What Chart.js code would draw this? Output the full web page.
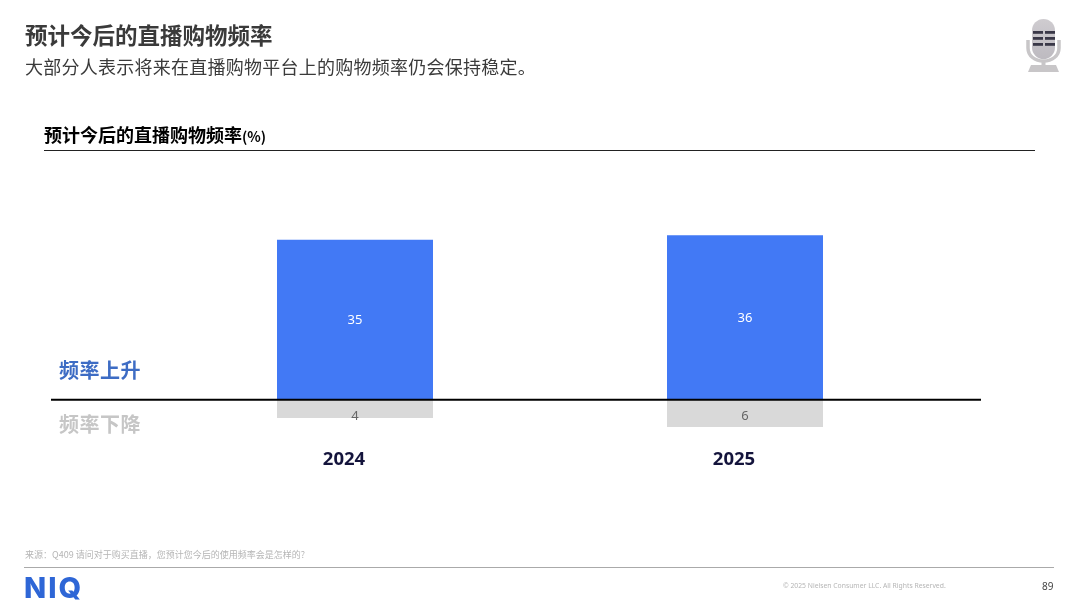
<!DOCTYPE html>
<html lang="zh-CN">
<head>
<meta charset="utf-8">
<script src="https://cdn.jsdelivr.net/npm/chart.js@4"></script>
<style>
  html, body { margin: 0; padding: 0; background: #fff; }
  body { width: 1080px; height: 608px; position: relative; overflow: hidden; font-family: "Noto Sans CJK SC", "Noto Sans", sans-serif; }
  canvas { position: absolute; left: 0; top: 0; }
  .txt { position: absolute; white-space: nowrap; line-height: 1; }
  .rule { position: absolute; }
</style>
</head>
<body>
<canvas id="freqChart" width="1080" height="608"></canvas>

<div class="txt" style="left:25px;top:23px;font-size:22.5px;font-weight:700;color:#3a3a3a">预计今后的直播购物频率</div>
<div class="txt" style="left:25px;top:57px;font-size:18px;letter-spacing:0.25px;color:#3a3a3a">大部分人表示将来在直播购物平台上的购物频率仍会保持稳定。</div>
<div class="txt" style="left:44px;top:125px;font-size:18px;font-weight:700;color:#000">预计今后的直播购物频率<span style="font-size:14px">(%)</span></div>
<div class="rule" style="left:44px;top:150px;width:991px;height:1px;background:#222"></div>

<div class="txt" style="left:59px;top:360px;font-size:20px;font-weight:700;letter-spacing:0.5px;color:#3d6cc4">频率上升</div>
<div class="txt" style="left:59px;top:414px;font-size:20px;font-weight:700;letter-spacing:0.5px;color:#c6c6c6">频率下降</div>

<div class="txt" style="left:25px;top:550px;font-size:9px;color:#b5b5b5">来源：Q409 请问对于购买直播，您预计您今后的使用频率会是怎样的?</div>
<div class="rule" style="left:24px;top:567px;width:1030px;height:1px;background:#aaa"></div>
<div class="txt" style="left:24px;top:573px;font-size:29px;font-weight:800;letter-spacing:2px;color:#2e66d6;font-family:Inter,'Noto Sans',sans-serif">NIQ</div>
<div class="txt" style="left:783px;top:583px;font-size:6.8px;color:#b5b5b5;font-family:'Noto Sans',sans-serif">© 2025 Nielsen Consumer LLC. All Rights Reserved.</div>
<div class="txt" style="left:1042px;top:581px;font-size:10px;color:#444;font-family:'Noto Sans',sans-serif">89</div>

<!-- microphone icon -->
<svg style="position:absolute;left:1020px;top:14px" width="48" height="62" viewBox="0 0 48 62">
  <defs><linearGradient id="micBody" x1="0" x2="0" y1="0" y2="1"><stop offset="0" stop-color="#cfccd0"/><stop offset="1" stop-color="#bdbac0"/></linearGradient></defs>
  <path d="M8 26v8c0 8 7 13 15.500 13s15.500-5 15.500-13v-8" fill="none" stroke="#c8c6c8" stroke-width="3.500"/>
  <rect x="12" y="5" width="23" height="40" rx="11.500" fill="url(#micBody)"/>
  <rect x="13" y="17" width="10" height="2.800" fill="#3a3848"/><rect x="25" y="17" width="10" height="2.800" fill="#3a3848"/>
  <rect x="13" y="23" width="10" height="2.800" fill="#3a3848"/><rect x="25" y="23" width="10" height="2.800" fill="#3a3848"/>
  <rect x="13" y="29" width="10" height="2.800" fill="#3a3848"/><rect x="25" y="29" width="10" height="2.800" fill="#3a3848"/>
  <rect x="21.500" y="47" width="4" height="5" fill="#c8c6c8"/>
  <path d="M8 58l3-7h25l3 7z" fill="#c8c6c8"/>
</svg>

<script>
const years = ['2024', '2025'];
const freqUp = [35, 36];
const freqDown = [-4, -6];

// zero line runs past the plot on both sides, labels sit inside the bars
const barExtras = {
    id: 'barExtras',
    afterDatasetsDraw(chart) {
        const ctx = chart.ctx;
        const zeroY = chart.scales.y.getPixelForValue(0);
        ctx.save();
        ctx.strokeStyle = '#000';
        ctx.lineWidth = 2;
        ctx.beginPath();
        ctx.moveTo(51, zeroY);
        ctx.lineTo(981, zeroY);
        ctx.stroke();

        ctx.textAlign = 'center';
        ctx.textBaseline = 'middle';
        ctx.font = '13px "Noto Sans", sans-serif';
        ctx.fillStyle = '#fff';
        chart.getDatasetMeta(0).data.forEach((bar, i) => {
            ctx.fillText(freqUp[i], bar.x, (bar.y + zeroY) / 2 + 1);
        });
        ctx.fillStyle = '#666';
        chart.getDatasetMeta(1).data.forEach((bar, i) => {
            ctx.fillText(Math.abs(freqDown[i]), bar.x, zeroY + 17);
        });
        ctx.restore();
    }
};

new Chart(document.getElementById('freqChart'), {
    type: 'bar',
    data: {
        labels: years,
        datasets: [
            { label: '频率上升', data: freqUp, backgroundColor: '#4279f5' },
            { label: '频率下降', data: freqDown, backgroundColor: '#d9d9d9' }
        ]
    },
    options: {
        responsive: false,
        animation: false,
        categoryPercentage: 0.4,
        barPercentage: 1,
        layout: { padding: { left: 160, right: 140, top: 217, bottom: 142.5 } },
        plugins: { legend: { display: false }, tooltip: { enabled: false } },
        scales: {
            x: {
                stacked: true,
                grid: { display: false },
                border: { display: false },
                ticks: {
                    labelOffset: -11,
                    padding: -5,
                    maxRotation: 0,
                    color: '#14143c',
                    font: { size: 18.5, weight: 'bold', family: '"Noto Sans", sans-serif' }
                }
            },
            y: { stacked: true, display: false, min: -10, max: 40 }
        }
    },
    plugins: [barExtras]
});
</script>
</body>
</html>
